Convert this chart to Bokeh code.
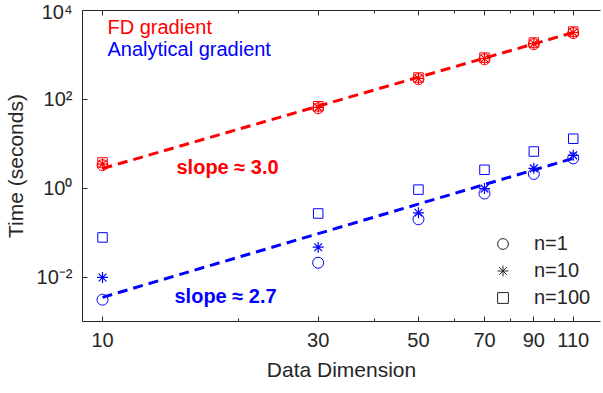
from bokeh.plotting import figure
from bokeh.models import (LogAxis, FixedTicker, Label, Legend, LegendItem,
                          CustomJSTickFormatter, Range1d)
from bokeh.embed import file_html
from bokeh.resources import INLINE

# ---- data ----
dims = [10, 30, 50, 70, 90, 110]

fd_n1 = [3.3, 63, 285, 800, 1750, 3100]
fd_n10 = [3.5, 66, 295, 830, 1800, 3200]
fd_n100 = [3.8, 70, 310, 870, 1900, 3350]

an_n1 = [0.0031, 0.021, 0.20, 0.76, 2.1, 4.7]
an_n10 = [0.0098, 0.047, 0.28, 0.98, 2.8, 5.5]
an_n100 = [0.078, 0.27, 0.93, 2.6, 6.7, 13]

fit_x = [10, 110]
fd_fit = [2.78, 3200]
an_fit = [0.0035, 4.7]

x_ticks = [10, 30, 50, 70, 90, 110]
x_minor = [20, 40, 60, 80, 100]
y_ticks = [1e-2, 1e0, 1e2, 1e4]
y_tick_labels = ["10\u207b\u00b2", "10\u2070", "10\u00b2", "10\u2074"]

series_labels = ["FD gradient", "Analytical gradient"]
legend_labels = ["n=1", "n=10", "n=100"]
slope_labels = ["slope \u2248 3.0", "slope \u2248 2.7"]

FONT = "Liberation Sans"
AX = "#262626"
RED = "#ff0000"
BLUE = "#0000ff"

p = figure(width=603, height=393, x_axis_type="log", y_axis_type="log",
           x_range=Range1d(9.03, 126.4), y_range=Range1d(1e-3, 1e4),
           output_backend="svg", toolbar_location=None,
           min_border_left=82, min_border_right=3, min_border_top=10,
           min_border_bottom=72, outline_line_color=None,
           background_fill_color="white", border_fill_color="white")
p.xgrid.visible = False
p.ygrid.visible = False

# ---- axes ----
xa = p.xaxis[0]
xa.ticker = FixedTicker(ticks=x_ticks, minor_ticks=x_minor)
xa.formatter = CustomJSTickFormatter(code="return tick.toFixed(0);")
ya = p.yaxis[0]
ya.ticker = FixedTicker(ticks=y_ticks, minor_ticks=[])
ya.formatter = CustomJSTickFormatter(args=dict(tvals=y_ticks, tlabels=y_tick_labels), code="""
for (let i = 0; i < tvals.length; i++) {
  if (Math.abs(Math.log10(tvals[i]) - Math.log10(tick)) < 1e-6) return tlabels[i];
}
return "";
""")
for ax in (xa, ya):
    ax.axis_line_color = AX
    ax.major_tick_line_color = AX
    ax.minor_tick_line_color = AX
    ax.major_tick_in = 5
    ax.major_tick_out = 0
    ax.minor_tick_in = 3
    ax.minor_tick_out = 0
    ax.major_label_text_font = FONT
    ax.major_label_text_font_size = "20px"
    ax.major_label_text_color = AX
    ax.axis_label_text_font = FONT
    ax.axis_label_text_font_size = "21px"
    ax.axis_label_text_font_style = "normal"
    ax.axis_label_text_color = AX
xa.axis_label = "Data Dimension"
ya.axis_label = "Time (seconds)"
xa.major_label_standoff = 11
xa.axis_label_standoff = 8
ya.major_label_standoff = 10
ya.axis_label_standoff = 7

top = LogAxis(ticker=FixedTicker(ticks=x_ticks, minor_ticks=x_minor),
              formatter=CustomJSTickFormatter(code="return '';"),
              major_label_standoff=0,
              axis_line_color=AX, major_tick_line_color=AX, minor_tick_line_color=AX,
              major_tick_in=5, major_tick_out=0, minor_tick_in=3, minor_tick_out=0)
p.add_layout(top, "above")

# ---- fit lines ----
p.line(fit_x, fd_fit, line_color=RED, line_width=3, line_dash="10 6")
p.line(fit_x, an_fit, line_color=BLUE, line_width=3, line_dash="10 6")

# ---- markers ----
for col, s1, s10, s100 in ((RED, fd_n1, fd_n10, fd_n100), (BLUE, an_n1, an_n10, an_n100)):
    p.scatter(dims, s1, marker="circle", size=11, fill_color=None, line_color=col, line_width=1)
    p.scatter(dims, s10, marker="asterisk", size=11, line_color=col, line_width=1.2)
    p.scatter(dims, s100, marker="square", size=9.5, fill_color=None, line_color=col, line_width=1)

# ---- marker legend (hidden proxy renderers, shown only as legend glyphs) ----
r1 = p.scatter(dims, an_n1, marker="circle", fill_color=None, line_color=AX, line_width=1, visible=False)
r10 = p.scatter(dims, an_n10, marker="asterisk", line_color=AX, line_width=1, visible=False)
r100 = p.scatter(dims, an_n100, marker="square", fill_color=None, line_color=AX, line_width=1, visible=False)
leg = Legend(items=[LegendItem(label=legend_labels[0], renderers=[r1]),
                    LegendItem(label=legend_labels[1], renderers=[r10]),
                    LegendItem(label=legend_labels[2], renderers=[r100])],
             location=(407, 10), margin=0, padding=0, spacing=-1,
             glyph_width=27, glyph_height=27, label_height=27, label_standoff=18,
             border_line_color=None, background_fill_alpha=0, inactive_fill_alpha=0,
             click_policy="none",
             label_text_font=FONT, label_text_font_size="20px", label_text_color=AX)
p.add_layout(leg)

# ---- text annotations ----
def add_text(x, y, text, color, style="normal"):
    p.add_layout(Label(x=x, y=y, x_units="screen", y_units="screen", text=text,
                       text_font=FONT, text_font_size="20px", text_font_style=style,
                       text_color=color, text_baseline="middle"))

add_text(25, 295, series_labels[0], RED)
add_text(25, 273, series_labels[1], BLUE)
add_text(94, 155, slope_labels[0], RED, "bold")
add_text(92, 26, slope_labels[1], BLUE, "bold")

open("out.html", "w").write(file_html(p, INLINE))
